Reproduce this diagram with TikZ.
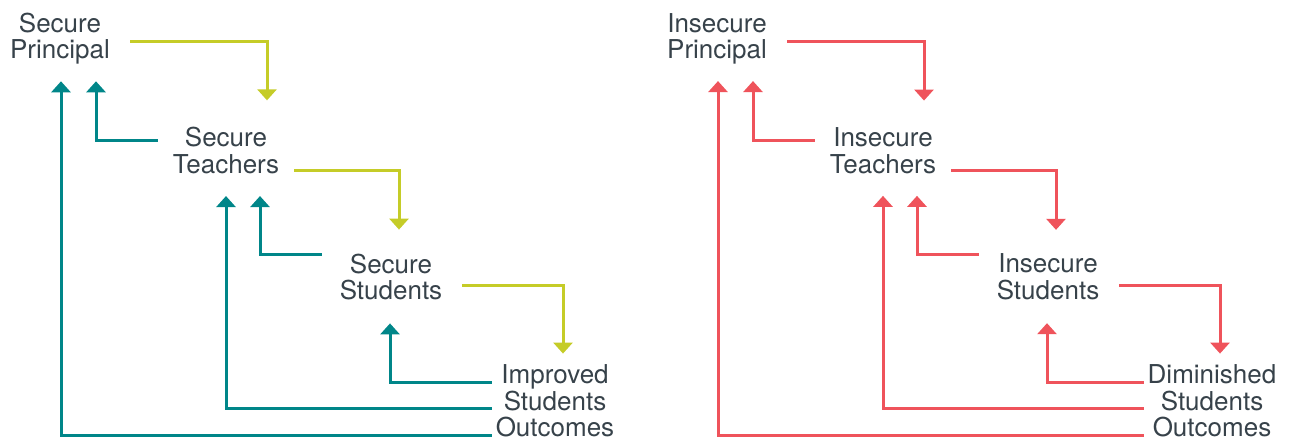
\documentclass[tikz,border=0pt]{standalone}
\usepackage{fontspec}
\setmainfont{TeX Gyre Heros}
\usetikzlibrary{arrows.meta,calc}
\definecolor{tealc}{RGB}{0,134,137}
\definecolor{limec}{RGB}{197,204,40}
\definecolor{redc}{RGB}{239,83,91}
\definecolor{textc}{RGB}{55,66,74}
\tikzset{
  lbl/.style={align=center, inner sep=0pt, text=textc, font=\fontsize{26}{26.5}\selectfont},
  conn/.style={line width=3pt, -{Triangle[width=19pt,length=11pt]}},
}
% #1 prefix, #2 x offset, #3 forward colour, #4 feedback colour, #5-#8 labels
\newcommand\panel[8]{%
  \node[lbl] (#1p) at (60+#2,38.8) {#5};
  \node[lbl] (#1t) at (226+#2,150.7) {#6};
  \node[lbl] (#1s) at (391+#2,277) {#7};
  \node[lbl] (#1o) at (555+#2,401) {#8};
  \draw[conn,#3] ($(#1p.east)+(20,3)$) -| ($(#1t.north)+(41,-27)$);
  \draw[conn,#3] ($(#1t.east)+(15,20)$) -| ($(#1s.north)+(8,-24)$);
  \draw[conn,#3] ($(#1s.east)+(20,8)$) -| ($(#1o.north)+(8,-11)$);
  \draw[conn,#4] ($(#1o.west)+(-4,34)$) -| ($(#1p.south)+(1,16.5)$);
  \draw[conn,#4] ($(#1t.west)+(-15,-10)$) -| ($(#1p.south)+(36,16.5)$);
  \draw[conn,#4] ($(#1o.west)+(-4,7)$) -| ($(#1t.south)+(0,22)$);
  \draw[conn,#4] ($(#1s.west)+(-18,-23)$) -| ($(#1t.south)+(34,22)$);
  \draw[conn,#4] ($(#1o.west)+(-4,-19)$) -| ($(#1s.south)+(-1,23)$);
}
\begin{document}
\begin{tikzpicture}[x=1pt,y=-1pt]
  \useasboundingbox (0,0) rectangle (1291,442);
  \panel{L}{0}{limec}{tealc}{Secure\\Principal}{Secure\\Teachers}{Secure\\Students}{Improved\\Students\\Outcomes}
  \panel{R}{657}{redc}{redc}{Insecure\\Principal}{Insecure\\Teachers}{Insecure\\Students}{Diminished\\Students\\Outcomes}
\end{tikzpicture}
\end{document}
